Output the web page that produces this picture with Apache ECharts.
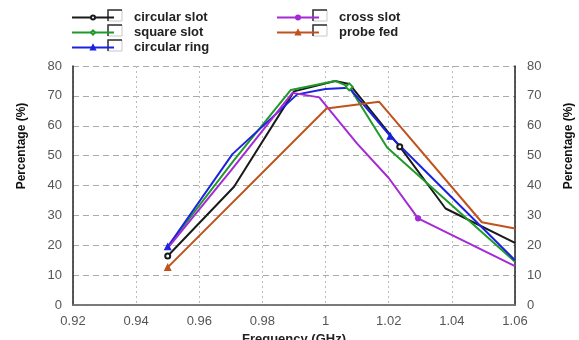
<!DOCTYPE html>
<html><head><meta charset="utf-8">
<script src="https://cdn.jsdelivr.net/npm/echarts@6/dist/echarts.min.js"></script>
<style>html,body{margin:0;padding:0;background:#fff}#c{width:579px;height:340px}</style>
</head><body><div id="c"></div>
<script>
// ---- data ----
const xTicks = {min: 0.92, max: 1.06, step: 0.02};
const yTicks = {min: 0, max: 80, step: 10};
const seriesNames = ['circular slot', 'square slot', 'circular ring', 'cross slot', 'probe fed'];

const circularSlotFreq = [0.95, 0.971, 0.99, 1.003, 1.0075, 1.0235, 1.038, 1.06];
const circularSlotVal  = [16.4, 39.6, 71.5, 75.0, 74.0, 53.0, 32.3, 20.8];

const squareSlotFreq = [0.95, 0.971, 0.989, 1.003, 1.0075, 1.0195, 1.06];
const squareSlotVal  = [19.5, 48.5, 72.0, 75.0, 73.0, 52.7, 14.5];

const circularRingFreq = [0.95, 0.9705, 0.991, 1.0, 1.0075, 1.0205, 1.06];
const circularRingVal  = [19.5, 50.5, 70.5, 72.3, 72.7, 56.5, 15.0];

const crossSlotFreq = [0.95, 0.97, 0.9895, 0.998, 1.01, 1.02, 1.0293, 1.06];
const crossSlotVal  = [19.0, 45.0, 71.0, 69.5, 54.0, 42.5, 29.0, 13.0];

const probeFedFreq = [0.95, 1.0003, 1.017, 1.0495, 1.06];
const probeFedVal  = [12.6, 65.8, 68.0, 27.7, 25.6];

// indices of points drawn with a marker
const circularSlotMarks = [0, 5];
const squareSlotMarks = [4];
const circularRingMarks = [0, 5];
const crossSlotMarks = [6];
const probeFedMarks = [0];

const FONT = 'Liberation Sans, Arial, sans-serif';
const chart = echarts.init(document.getElementById('c'));

function mk(name, freq, val, marks, color, symbol, size) {
  return {
    name, type: 'line', xAxisIndex: 0, yAxisIndex: 0,
    symbol, symbolSize: size, showSymbol: true,
    lineStyle: {color, width: 2}, itemStyle: {color, borderColor: color, borderWidth: 1.2},
    emphasis: {disabled: true}, animation: false,
    data: freq.map((f, i) => marks.includes(i) ? {value: [f, val[i]]} : {value: [f, val[i]], symbol: 'none'})
  };
}

const COLORS = ['#1a1a1a', '#1f9a2a', '#1c22e0', '#a42ad6', '#c0521e'];

const series = [
  mk(seriesNames[0], circularSlotFreq, circularSlotVal, circularSlotMarks, COLORS[0], 'emptyCircle', 5),
  mk(seriesNames[1], squareSlotFreq, squareSlotVal, squareSlotMarks, COLORS[1], 'emptyDiamond', 7),
  mk(seriesNames[2], circularRingFreq, circularRingVal, circularRingMarks, COLORS[2], 'triangle', 6),
  mk(seriesNames[3], crossSlotFreq, crossSlotVal, crossSlotMarks, COLORS[3], 'circle', 5),
  mk(seriesNames[4], probeFedFreq, probeFedVal, probeFedMarks, COLORS[4], 'triangle', 6)
];

const legendText = {fontFamily: FONT, fontWeight: 'bold', fontSize: 13, color: '#222', padding: [0, 0, 0, 15], lineHeight: 15};
function box(x, y) {
  return [
    {type: 'rect', shape: {x: x, y: y, width: 14, height: 11}, style: {fill: '#fff', stroke: '#c8c8c8', lineWidth: 1}},
    {type: 'polyline', shape: {points: [[x, y + 11], [x, y], [x + 14, y]]}, style: {stroke: '#333', lineWidth: 1.5, fill: null}}
  ];
}

chart.setOption({
  animation: false,
  grid: {left: 73, right: 64, top: 66, bottom: 35, outerBoundsMode: 'none', containLabel: false},
  legend: [
    {data: seriesNames.slice(0, 3), left: 66, top: 5, orient: 'vertical', itemGap: 0, itemWidth: 42, itemHeight: 5,
     textStyle: legendText, selectedMode: false},
    {data: seriesNames.slice(3), left: 271, top: 5, orient: 'vertical', itemGap: 0, itemWidth: 42, itemHeight: 5,
     textStyle: legendText, selectedMode: false}
  ],
  graphic: [].concat(
    box(108, 10), box(108, 25), box(108, 40), box(313, 10), box(313, 25),
    [
      {type: 'text', x: 22, y: 146, rotation: Math.PI / 2,
       style: {text: 'Percentage (%)', font: 'bold 12px "Liberation Sans Narrow", ' + FONT, fill: '#111', align: 'center', verticalAlign: 'middle'}},
      {type: 'text', x: 569, y: 146, rotation: Math.PI / 2,
       style: {text: 'Percentage (%)', font: 'bold 12px "Liberation Sans Narrow", ' + FONT, fill: '#111', align: 'center', verticalAlign: 'middle'}}
    ]
  ),
  xAxis: [
    {type: 'value', min: xTicks.min, max: xTicks.max, interval: xTicks.step, position: 'bottom',
     name: 'Frequency (GHz)', nameLocation: 'middle', nameGap: 27,
     nameTextStyle: {fontFamily: FONT, fontWeight: 'bold', fontSize: 13, color: '#222'},
     axisLine: {lineStyle: {color: '#222', width: 1.5}}, axisTick: {show: false},
     axisLabel: {fontFamily: FONT, fontSize: 13, color: '#555', margin: 10, formatter: v => String(+v.toFixed(2))},
     splitLine: {show: true, lineStyle: {color: '#bbb', type: [2, 3], width: 1}}},
    {type: 'value', min: xTicks.min, max: xTicks.max, interval: xTicks.step, position: 'top',
     axisLine: {show: true, lineStyle: {color: '#888', width: 1.5}}, axisTick: {show: false}, axisLabel: {show: false}, splitLine: {show: false}}
  ],
  yAxis: [
    {type: 'value', min: yTicks.min, max: yTicks.max, interval: yTicks.step, position: 'left',
     axisLine: {show: true, lineStyle: {color: '#222', width: 1.5}}, axisTick: {show: false},
     axisLabel: {fontFamily: FONT, fontSize: 13, color: '#555', margin: 11},
     splitLine: {show: true, lineStyle: {color: '#aaa', type: [6, 4], width: 1}}},
    {type: 'value', min: yTicks.min, max: yTicks.max, interval: yTicks.step, position: 'right',
     axisLine: {show: true, lineStyle: {color: '#222', width: 1.5}}, axisTick: {show: false},
     axisLabel: {fontFamily: FONT, fontSize: 13, color: '#555', margin: 12},
     splitLine: {show: false}}
  ],
  series
});
</script></body></html>
